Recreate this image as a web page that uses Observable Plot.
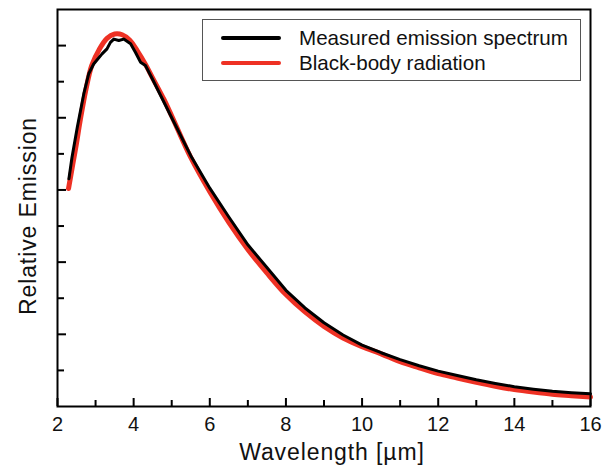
<!DOCTYPE html>
<html>
<head>
<meta charset="utf-8">
<script src="https://cdn.jsdelivr.net/npm/d3@7"></script>
<script src="https://cdn.jsdelivr.net/npm/@observablehq/plot@0.6"></script>
<style>
  html, body { margin: 0; padding: 0; background: #fff; }
  #wrap { position: relative; width: 616px; height: 466px; font-family: "Liberation Sans", Arial, sans-serif; }
  #legend { position: absolute; left: 202px; top: 19px; width: 379px; height: 62px; box-sizing: border-box;
            border: 1px solid #555; background: #fff; padding-top: 5px; }
  .row { display: flex; align-items: center; height: 25px; font-size: 20.6px; color: #111; }
  .sw { width: 60px; height: 4px; border-radius: 2px; margin-left: 18px; margin-right: 18px; }
</style>
</head>
<body>
<div id="wrap"></div>
<script>
// Measured emission spectrum (black)
const measuredWavelength = [2.3, 2.38, 2.52, 2.69, 2.82, 2.95, 3.17, 3.3, 3.39, 3.48, 3.61, 3.74, 3.92, 4.05, 4.18, 4.31, 4.49, 4.84, 5.0, 5.5, 6.0, 6.5, 7.0, 7.5, 8.0, 8.5, 9.0, 9.5, 10.0, 10.5, 11.0, 11.5, 12.0, 12.5, 13.0, 13.5, 14.0, 14.5, 15.0, 15.5, 16.0];
const measuredValue = [0.631, 0.69, 0.774, 0.866, 0.922, 0.949, 0.977, 0.991, 1.009, 1.018, 1.014, 1.018, 1.005, 0.981, 0.954, 0.945, 0.908, 0.834, 0.80, 0.695, 0.605, 0.525, 0.448, 0.385, 0.322, 0.273, 0.232, 0.198, 0.170, 0.149, 0.130, 0.113, 0.098, 0.086, 0.074, 0.064, 0.055, 0.048, 0.042, 0.038, 0.035];

// Black-body radiation (red)
const blackbodyWavelength = [2.29, 2.4, 2.5, 2.6, 2.75, 2.9, 3.1, 3.3, 3.5, 3.7, 3.9, 4.1, 4.3, 4.5, 4.8, 5.0, 5.5, 6.0, 6.5, 7.0, 7.5, 8.0, 8.5, 9.0, 9.5, 10.0, 10.5, 11.0, 11.5, 12.0, 12.5, 13.0, 13.5, 14.0, 14.5, 15.0, 15.5, 16.0];
const blackbodyValue = [0.604, 0.67, 0.73, 0.795, 0.88, 0.945, 0.99, 1.02, 1.032, 1.03, 1.015, 0.985, 0.95, 0.91, 0.85, 0.805, 0.69, 0.595, 0.51, 0.435, 0.37, 0.31, 0.262, 0.222, 0.19, 0.166, 0.146, 0.124, 0.107, 0.091, 0.079, 0.067, 0.056, 0.047, 0.040, 0.034, 0.030, 0.026];

const seriesNames = ["Measured emission spectrum", "Black-body radiation"];
const seriesColors = ["#000000", "#ee3124"];

const xMajorTicks = [2, 4, 6, 8, 10, 12, 14, 16];
const xMinorTicks = [3, 5, 7, 9, 11, 13, 15];
const yMajorTicks = [0.2, 0.4, 0.6, 0.8, 1.0];
const yMinorTicks = [0.1, 0.3, 0.5, 0.7, 0.9];
const xTitle = "Wavelength [µm]";
const yTitle = "Relative Emission";

const measured = measuredWavelength.map((w, i) => ({w, v: measuredValue[i]}));
const blackbody = blackbodyWavelength.map((w, i) => ({w, v: blackbodyValue[i]}));

const chart = Plot.plot({
  width: 616,
  height: 466,
  marginLeft: 57,
  marginRight: 26,
  marginTop: 9,
  marginBottom: 60,
  style: {fontFamily: "'Liberation Sans', Arial, sans-serif", fontSize: "20px", color: "#111", background: "#fff"},
  x: {domain: [2, 16]},
  y: {domain: [0, 1.1]},
  marks: [
    Plot.axisX(xMajorTicks, {tickSize: -8, strokeWidth: 2, tickFormat: () => "", label: null, stroke: "#000"}),
    Plot.axisX(xMinorTicks, {tickSize: -6, strokeWidth: 2, tickFormat: () => "", label: null, stroke: "#000"}),
    Plot.axisX(xMajorTicks, {tickSize: 0, tickPadding: 10, fontSize: 20, label: null, fill: "#111"}),
    Plot.axisY(yMajorTicks, {tickSize: -9, strokeWidth: 2, tickFormat: () => "", label: null, stroke: "#000"}),
    Plot.axisY(yMinorTicks, {tickSize: -7, strokeWidth: 2, tickFormat: () => "", label: null, stroke: "#000"}),
    Plot.line(blackbody, {x: "w", y: "v", stroke: seriesColors[1], strokeWidth: 5, curve: "catmull-rom", strokeLinecap: "round"}),
    Plot.line(measured, {x: "w", y: "v", stroke: seriesColors[0], strokeWidth: 3, strokeLinejoin: "round"}),
    Plot.frame({stroke: "#000", strokeWidth: 2}),
    Plot.text([xTitle], {text: d => d, frameAnchor: "bottom", textAnchor: "middle", dx: 8, dy: 46, fontSize: 23, lineAnchor: "middle", fill: "#111"}),
    Plot.text([yTitle], {text: d => d, frameAnchor: "left", textAnchor: "middle", rotate: -90, dx: -29, dy: 8, fontSize: 23, lineAnchor: "middle", fill: "#111"})
  ]
});

// widen the two axis titles a little to match the reference's letter spacing
d3.select(chart).selectAll("text").filter(function() {
  const t = this.textContent;
  return t === xTitle || t === yTitle;
}).attr("letter-spacing", "0.9px");

const wrap = document.getElementById("wrap");
wrap.appendChild(chart);

const legend = document.createElement("div");
legend.id = "legend";
seriesNames.forEach((name, i) => {
  const row = document.createElement("div");
  row.className = "row";
  const sw = document.createElement("span");
  sw.className = "sw";
  sw.style.background = seriesColors[i];
  const label = document.createElement("span");
  label.textContent = name;
  row.appendChild(sw);
  row.appendChild(label);
  legend.appendChild(row);
});
wrap.appendChild(legend);
</script>
</body>
</html>
